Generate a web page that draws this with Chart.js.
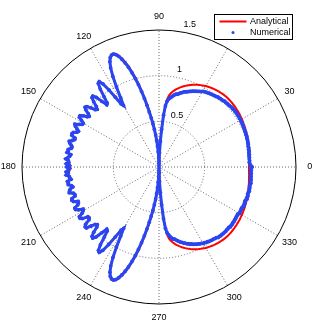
<!DOCTYPE html>
<html>
<head>
<meta charset="utf-8">
<script src="https://cdn.jsdelivr.net/npm/chart.js@4.4.0/dist/chart.umd.min.js"></script>
<style>
  html, body { margin: 0; padding: 0; background: #fff; }
  canvas { display: block; }
</style>
</head>
<body>
<canvas id="myChart" width="318" height="332"></canvas>
<script>
// radius at 0,1,2,...,359 degrees (counter-clockwise from the right)
const analytical = [
  0.985, 0.985, 0.986, 0.987, 0.988, 0.990, 0.991, 0.993, 0.995, 0.997,   // 0
  1.000, 1.002, 1.005, 1.007, 1.010, 1.012, 1.015, 1.017, 1.020, 1.022,   // 10
  1.025, 1.027, 1.030, 1.032, 1.034, 1.037, 1.039, 1.041, 1.044, 1.046,   // 20
  1.048, 1.050, 1.052, 1.054, 1.055, 1.057, 1.058, 1.060, 1.061, 1.062,   // 30
  1.063, 1.064, 1.064, 1.065, 1.065, 1.065, 1.064, 1.063, 1.062, 1.060,   // 40
  1.058, 1.056, 1.053, 1.050, 1.047, 1.044, 1.040, 1.036, 1.032, 1.028,   // 50
  1.024, 1.018, 1.012, 1.006, 1.000, 0.993, 0.986, 0.978, 0.970, 0.962,   // 60
  0.953, 0.944, 0.934, 0.924, 0.914, 0.903, 0.891, 0.878, 0.865, 0.850,   // 70
  0.834, 0.815, 0.792, 0.755, 0.690, 0.575, 0.420, 0.280, 0.160, 0.070,   // 80
  0.000, 0.050, 0.110, 0.175, 0.240, 0.305, 0.370, 0.435, 0.500, 0.565,   // 90
  0.635, 0.710, 0.790, 0.870, 0.950, 1.025, 1.095, 1.160, 1.215, 1.262,   // 100
  1.300, 1.328, 1.340, 1.337, 1.316, 1.275, 1.210, 1.115, 0.990, 0.860,   // 110
  0.770, 0.800, 0.900, 1.010, 1.105, 1.148, 1.135, 1.070, 0.975, 0.895,   // 120
  0.885, 0.950, 1.030, 1.068, 1.060, 1.010, 0.950, 0.920, 0.935, 0.990,   // 130
  1.035, 1.045, 1.015, 0.965, 0.940, 0.955, 1.005, 1.035, 1.025, 0.985,   // 140
  0.955, 0.955, 0.995, 1.030, 1.022, 0.988, 0.960, 0.968, 1.005, 1.025,   // 150
  1.010, 0.978, 0.965, 0.985, 1.015, 1.020, 0.995, 0.972, 0.975, 1.002,   // 160
  1.015, 1.005, 0.980, 0.975, 0.995, 1.010, 1.005, 0.985, 0.980, 0.990,   // 170
  0.995, 0.990, 0.980, 0.985, 1.005, 1.010, 0.995, 0.975, 0.980, 1.005,   // 180
  1.015, 1.002, 0.975, 0.972, 0.995, 1.020, 1.015, 0.985, 0.965, 0.978,   // 190
  1.010, 1.025, 1.005, 0.968, 0.960, 0.988, 1.022, 1.030, 0.995, 0.955,   // 200
  0.955, 0.985, 1.025, 1.035, 1.005, 0.955, 0.940, 0.965, 1.015, 1.045,   // 210
  1.035, 0.990, 0.935, 0.920, 0.950, 1.010, 1.060, 1.068, 1.030, 0.950,   // 220
  0.885, 0.895, 0.975, 1.070, 1.135, 1.148, 1.105, 1.010, 0.900, 0.800,   // 230
  0.770, 0.860, 0.990, 1.115, 1.210, 1.275, 1.316, 1.337, 1.340, 1.328,   // 240
  1.300, 1.262, 1.215, 1.160, 1.095, 1.025, 0.950, 0.870, 0.790, 0.710,   // 250
  0.635, 0.565, 0.500, 0.435, 0.370, 0.305, 0.240, 0.175, 0.110, 0.050,   // 260
  0.000, 0.070, 0.160, 0.280, 0.420, 0.575, 0.690, 0.755, 0.792, 0.815,   // 270
  0.834, 0.850, 0.865, 0.878, 0.891, 0.903, 0.914, 0.924, 0.934, 0.944,   // 280
  0.953, 0.962, 0.970, 0.978, 0.986, 0.993, 1.000, 1.006, 1.012, 1.018,   // 290
  1.024, 1.028, 1.032, 1.036, 1.040, 1.044, 1.047, 1.050, 1.053, 1.056,   // 300
  1.058, 1.060, 1.062, 1.063, 1.064, 1.065, 1.065, 1.065, 1.064, 1.064,   // 310
  1.063, 1.062, 1.061, 1.060, 1.058, 1.057, 1.055, 1.054, 1.052, 1.050,   // 320
  1.048, 1.046, 1.044, 1.041, 1.039, 1.037, 1.034, 1.032, 1.030, 1.027,   // 330
  1.025, 1.022, 1.020, 1.017, 1.015, 1.012, 1.010, 1.007, 1.005, 1.002,   // 340
  1.000, 0.997, 0.995, 0.993, 0.991, 0.990, 0.988, 0.987, 0.986, 0.985    // 350
];

const numerical = [
  1.020, 1.005, 0.994, 0.990, 0.995, 0.992, 0.996, 0.993, 0.999, 0.996,   // 0
  1.003, 0.999, 1.006, 1.002, 1.008, 1.009, 1.010, 1.014, 1.012, 1.017,   // 10
  1.018, 1.017, 1.022, 1.019, 1.024, 1.022, 1.027, 1.025, 1.030, 1.028,   // 20
  1.032, 1.030, 1.034, 1.031, 1.033, 1.035, 1.030, 1.034, 1.029, 1.031,   // 30
  1.028, 1.024, 1.020, 1.021, 1.016, 1.018, 1.010, 1.007, 1.006, 1.001,   // 40
  1.002, 0.993, 0.990, 0.986, 0.983, 0.978, 0.976, 0.970, 0.967, 0.962,   // 50
  0.957, 0.944, 0.938, 0.929, 0.924, 0.914, 0.910, 0.899, 0.894, 0.883,   // 60
  0.877, 0.870, 0.863, 0.851, 0.844, 0.830, 0.821, 0.818, 0.806, 0.793,   // 70
  0.778, 0.765, 0.752, 0.724, 0.672, 0.570, 0.415, 0.282, 0.155, 0.068,   // 80
  0.010, 0.045, 0.102, 0.166, 0.226, 0.290, 0.352, 0.415, 0.478, 0.542,   // 90
  0.612, 0.688, 0.768, 0.848, 0.930, 1.003, 1.074, 1.142, 1.198, 1.248,   // 100
  1.289, 1.318, 1.333, 1.331, 1.312, 1.272, 1.208, 1.113, 0.992, 0.864,   // 110
  0.778, 0.807, 0.902, 1.006, 1.098, 1.141, 1.131, 1.068, 0.978, 0.902,   // 120
  0.890, 0.952, 1.025, 1.062, 1.057, 1.012, 0.955, 0.926, 0.938, 0.988,   // 130
  1.030, 1.041, 1.018, 0.970, 0.945, 0.958, 1.002, 1.031, 1.028, 0.990,   // 140
  0.958, 0.962, 0.992, 1.033, 1.018, 0.992, 0.965, 0.975, 1.012, 1.020,   // 150
  1.015, 0.972, 0.970, 0.992, 1.022, 1.012, 0.990, 0.978, 0.982, 1.012,   // 160
  1.008, 1.020, 0.975, 0.985, 1.002, 1.025, 0.995, 0.990, 1.015, 0.982,   // 170
  1.010, 0.978, 0.995, 1.018, 0.998, 1.020, 0.988, 0.985, 0.972, 1.015,   // 180
  1.008, 1.012, 0.980, 0.968, 1.002, 1.015, 1.022, 0.980, 0.970, 0.972,   // 190
  1.015, 1.020, 1.010, 0.962, 0.966, 0.982, 1.026, 1.025, 0.998, 0.950,   // 200
  0.960, 0.980, 1.028, 1.030, 1.010, 0.950, 0.946, 0.960, 1.020, 1.040,   // 210
  1.038, 0.985, 0.940, 0.924, 0.946, 1.012, 1.055, 1.064, 1.032, 0.955,   // 220
  0.890, 0.900, 0.972, 1.066, 1.128, 1.140, 1.102, 1.012, 0.905, 0.808,   // 230
  0.776, 0.865, 0.992, 1.110, 1.205, 1.270, 1.310, 1.331, 1.333, 1.320,   // 240
  1.290, 1.250, 1.200, 1.144, 1.076, 1.005, 0.930, 0.850, 0.770, 0.690,   // 250
  0.613, 0.543, 0.480, 0.416, 0.352, 0.290, 0.226, 0.166, 0.102, 0.045,   // 260
  0.010, 0.068, 0.158, 0.278, 0.415, 0.568, 0.675, 0.725, 0.747, 0.770,   // 270
  0.789, 0.805, 0.805, 0.818, 0.831, 0.843, 0.856, 0.863, 0.876, 0.882,   // 280
  0.895, 0.900, 0.912, 0.916, 0.928, 0.931, 0.942, 0.944, 0.954, 0.956,   // 290
  0.966, 0.966, 0.974, 0.975, 0.982, 0.983, 0.989, 0.988, 0.995, 0.995,   // 300
  1.008, 1.006, 1.012, 1.009, 1.014, 1.011, 1.015, 1.011, 1.014, 1.010,   // 310
  1.020, 1.016, 1.018, 1.013, 1.015, 1.010, 1.012, 1.007, 1.009, 1.004,   // 320
  1.020, 1.014, 1.016, 1.010, 1.012, 1.024, 1.017, 1.020, 1.013, 1.014,   // 330
  1.027, 1.020, 1.024, 1.015, 1.018, 1.024, 1.018, 1.020, 1.013, 1.016,   // 340
  1.022, 1.014, 1.018, 1.010, 1.014, 1.008, 1.012, 1.005, 1.010, 1.004    // 350
];

const angleTicks = [0, 30, 60, 90, 120, 150, 180, 210, 240, 270, 300, 330];
const radialTicks = [0.5, 1, 1.5];
const seriesNames = ['Analytical', 'Numerical'];
const seriesColors = ['#ff0000', '#2b45f0'];

// angle (degrees) of each sample, one per entry
const angles = analytical.map((v, i) => i);

// radar goes clockwise from the top, so walk 90, 89, ... around
const chartAngles = angles.map((a, i) => (90 - i + 360) % 360);
const pick = arr => chartAngles.map(a => arr[angles.indexOf(a)]);

const labelFont = '9px "Liberation Sans", Arial, sans-serif';

const polarText = {
  id: 'polarText',
  afterDraw(chart) {
    const r = chart.scales.r;
    const c = chart.ctx;
    c.save();
    c.font = labelFont;
    c.fillStyle = '#000';

    // angle labels, centred at 1.1 x outer radius
    c.textAlign = 'center';
    c.textBaseline = 'middle';
    angleTicks.forEach(a => {
      const p = r.getPointPosition(chartAngles.indexOf(a), r.drawingArea * 1.1);
      c.fillText(String(a), p.x, p.y);
    });

    // radius labels along the 82 degree spoke
    c.textAlign = 'left';
    c.textBaseline = 'bottom';
    radialTicks.forEach(v => {
      const p = r.getPointPosition(chartAngles.indexOf(82), r.getDistanceFromCenterForValue(v + 0.025));
      c.fillText('  ' + v, p.x, p.y);
    });

    // legend box
    const bx = 214.5, by = 14.5, bw = 78, bh = 25;
    c.fillStyle = '#fff';
    c.fillRect(bx, by, bw, bh);
    c.strokeStyle = '#000';
    c.lineWidth = 1;
    c.strokeRect(bx, by, bw, bh);

    c.strokeStyle = seriesColors[0];
    c.lineWidth = 2;
    c.beginPath();
    c.moveTo(219.5, 21.5);
    c.lineTo(246.5, 21.5);
    c.stroke();

    c.fillStyle = seriesColors[1];
    c.beginPath();
    c.arc(233, 32.5, 1.5, 0, Math.PI * 2);
    c.fill();

    c.fillStyle = '#000';
    c.textBaseline = 'middle';
    c.fillText(chart.data.datasets[0].label, 250, 21.5);
    c.fillText(chart.data.datasets[1].label, 250, 33);
    c.restore();
  }
};

const ctx = document.getElementById('myChart');

const myPolar = new Chart(ctx, {
  type: 'radar',
  data: {
    labels: chartAngles,
    datasets: [
      {
        label: seriesNames[0],
        data: pick(analytical),
        borderColor: seriesColors[0],
        borderWidth: 2,
        pointRadius: 0,
        fill: false,
        order: 2
      },
      {
        label: seriesNames[1],
        data: pick(numerical),
        borderColor: seriesColors[1],
        backgroundColor: seriesColors[1],
        pointBackgroundColor: seriesColors[1],
        borderWidth: 3,
        pointRadius: 1.9,
        pointBorderWidth: 0,
        fill: false,
        order: 1
      }
    ]
  },
  options: {
    responsive: false,
    animation: false,
    layout: { padding: { left: 22, right: 22, top: 30, bottom: 28 } },
    elements: { line: { tension: 0 } },
    plugins: {
      legend: { display: false },
      tooltip: { enabled: false }
    },
    scales: {
      r: {
        min: 0,
        max: 1.5,
        ticks: { display: false, stepSize: 0.5 },
        pointLabels: { display: false },
        grid: {
          circular: true,
          lineWidth: 1,
          color: c => (c.tick && c.tick.value >= 1.5) ? '#000' : '#666'
        },
        border: {
          dash: c => (c.tick && c.tick.value >= 1.5) ? [] : [1, 2]
        },
        angleLines: {
          color: '#666',
          borderDash: [1, 2],
          lineWidth: c => (c.index % 30 === 0) ? 1 : 0
        }
      }
    }
  },
  plugins: [polarText]
});
</script>
</body>
</html>
